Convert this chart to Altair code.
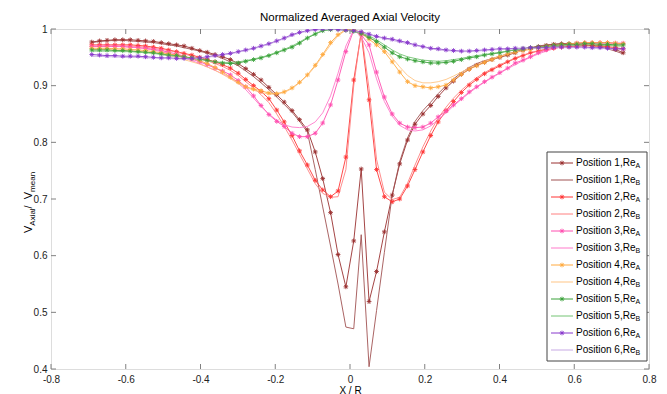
import altair as alt
import pandas as pd

TITLE = "Normalized Averaged Axial Velocity"
XLABEL = "X / R"
XTICKS = [-0.8, -0.6, -0.4, -0.2, 0.0, 0.2, 0.4, 0.6, 0.8]
YTICKS = [0.4, 0.5, 0.6, 0.7, 0.8, 0.9, 1.0]

X = [-0.691, -0.670, -0.650, -0.629, -0.608, -0.588, -0.567, -0.547, -0.526, -0.505,
     -0.485, -0.464, -0.444, -0.423, -0.402, -0.382, -0.361, -0.341, -0.320, -0.299,
     -0.279, -0.258, -0.238, -0.217, -0.196, -0.176, -0.155, -0.135, -0.114, -0.093,
     -0.073, -0.052, -0.032, -0.011, 0.010, 0.030, 0.051, 0.071, 0.092, 0.113,
     0.133, 0.154, 0.174, 0.195, 0.216, 0.236, 0.257, 0.277, 0.298, 0.319,
     0.339, 0.360, 0.380, 0.401, 0.422, 0.442, 0.463, 0.483, 0.504, 0.525,
     0.545, 0.566, 0.586, 0.607, 0.628, 0.648, 0.669, 0.689, 0.710, 0.731]

P1A = [0.977, 0.979, 0.980, 0.981, 0.981, 0.981, 0.980, 0.979, 0.978, 0.976,
       0.974, 0.972, 0.970, 0.966, 0.962, 0.959, 0.955, 0.951, 0.946, 0.939,
       0.930, 0.920, 0.910, 0.897, 0.884, 0.871, 0.856, 0.840, 0.822, 0.783,
       0.736, 0.676, 0.602, 0.545, 0.626, 0.753, 0.519, 0.572, 0.642, 0.707,
       0.762, 0.804, 0.832, 0.850, 0.865, 0.881, 0.896, 0.908, 0.920, 0.929,
       0.936, 0.941, 0.946, 0.950, 0.954, 0.958, 0.963, 0.966, 0.969, 0.971,
       0.973, 0.974, 0.974, 0.973, 0.972, 0.971, 0.970, 0.968, 0.964, 0.958]
P1B = [0.976, 0.978, 0.979, 0.980, 0.980, 0.979, 0.978, 0.977, 0.976, 0.974,
       0.972, 0.970, 0.967, 0.964, 0.961, 0.957, 0.953, 0.948, 0.942, 0.935,
       0.926, 0.916, 0.905, 0.893, 0.880, 0.867, 0.853, 0.837, 0.818, 0.752,
       0.686, 0.617, 0.550, 0.474, 0.471, 0.637, 0.404, 0.503, 0.606, 0.707,
       0.766, 0.808, 0.837, 0.856, 0.871, 0.886, 0.900, 0.912, 0.923, 0.932,
       0.939, 0.944, 0.948, 0.952, 0.956, 0.960, 0.964, 0.967, 0.970, 0.972,
       0.973, 0.974, 0.974, 0.973, 0.972, 0.970, 0.968, 0.965, 0.961, 0.956]
P2A = [0.972, 0.972, 0.972, 0.972, 0.972, 0.972, 0.971, 0.970, 0.968, 0.966,
       0.963, 0.960, 0.957, 0.954, 0.950, 0.946, 0.942, 0.937, 0.931, 0.922,
       0.911, 0.900, 0.890, 0.877, 0.857, 0.836, 0.812, 0.785, 0.760, 0.733,
       0.716, 0.704, 0.714, 0.774, 0.910, 0.993, 0.875, 0.752, 0.704, 0.695,
       0.700, 0.723, 0.752, 0.783, 0.812, 0.836, 0.856, 0.872, 0.888, 0.901,
       0.911, 0.921, 0.928, 0.935, 0.942, 0.948, 0.953, 0.958, 0.961, 0.964,
       0.966, 0.968, 0.969, 0.970, 0.971, 0.971, 0.970, 0.969, 0.967, 0.965]
P2B = [0.970, 0.970, 0.970, 0.970, 0.970, 0.970, 0.969, 0.968, 0.966, 0.964,
       0.962, 0.959, 0.956, 0.952, 0.948, 0.944, 0.939, 0.934, 0.927, 0.918,
       0.907, 0.896, 0.884, 0.870, 0.850, 0.828, 0.804, 0.779, 0.753, 0.727,
       0.710, 0.703, 0.704, 0.752, 0.900, 0.996, 0.895, 0.770, 0.712, 0.699,
       0.703, 0.728, 0.760, 0.792, 0.820, 0.843, 0.862, 0.878, 0.892, 0.904,
       0.914, 0.923, 0.930, 0.937, 0.943, 0.949, 0.954, 0.958, 0.962, 0.965,
       0.967, 0.968, 0.969, 0.970, 0.970, 0.970, 0.969, 0.968, 0.966, 0.963]
P3A = [0.969, 0.969, 0.969, 0.969, 0.969, 0.968, 0.967, 0.966, 0.964, 0.962,
       0.959, 0.956, 0.952, 0.947, 0.942, 0.937, 0.931, 0.926, 0.919, 0.909,
       0.898, 0.882, 0.865, 0.849, 0.837, 0.828, 0.816, 0.810, 0.810, 0.816,
       0.834, 0.866, 0.910, 0.960, 0.998, 0.990, 0.972, 0.924, 0.880, 0.850,
       0.834, 0.827, 0.826, 0.827, 0.834, 0.845, 0.855, 0.866, 0.877, 0.889,
       0.898, 0.907, 0.915, 0.923, 0.931, 0.940, 0.945, 0.951, 0.958, 0.963,
       0.967, 0.970, 0.973, 0.975, 0.976, 0.976, 0.976, 0.976, 0.975, 0.975]
P3B = [0.970, 0.970, 0.970, 0.970, 0.969, 0.968, 0.967, 0.965, 0.963, 0.960,
       0.957, 0.953, 0.949, 0.944, 0.939, 0.933, 0.927, 0.921, 0.914, 0.904,
       0.893, 0.878, 0.863, 0.850, 0.839, 0.831, 0.827, 0.826, 0.828, 0.836,
       0.852, 0.882, 0.922, 0.970, 0.999, 0.986, 0.958, 0.912, 0.872, 0.846,
       0.830, 0.822, 0.820, 0.822, 0.829, 0.840, 0.852, 0.864, 0.876, 0.887,
       0.897, 0.906, 0.914, 0.922, 0.930, 0.937, 0.944, 0.950, 0.956, 0.961,
       0.965, 0.969, 0.972, 0.974, 0.975, 0.975, 0.975, 0.975, 0.974, 0.973]
P4A = [0.966, 0.966, 0.966, 0.965, 0.965, 0.964, 0.963, 0.962, 0.960, 0.958,
       0.956, 0.954, 0.951, 0.948, 0.944, 0.939, 0.932, 0.924, 0.915, 0.906,
       0.898, 0.894, 0.891, 0.887, 0.886, 0.889, 0.896, 0.906, 0.919, 0.936,
       0.955, 0.976, 0.990, 0.999, 0.998, 0.992, 0.982, 0.972, 0.960, 0.942,
       0.924, 0.907, 0.900, 0.898, 0.896, 0.898, 0.901, 0.910, 0.920, 0.929,
       0.935, 0.941, 0.946, 0.951, 0.956, 0.959, 0.962, 0.964, 0.967, 0.969,
       0.971, 0.972, 0.974, 0.975, 0.976, 0.976, 0.976, 0.976, 0.975, 0.974]
P4B = [0.964, 0.964, 0.964, 0.963, 0.963, 0.962, 0.961, 0.960, 0.958, 0.956,
       0.953, 0.950, 0.946, 0.942, 0.938, 0.933, 0.927, 0.920, 0.912, 0.904,
       0.897, 0.892, 0.888, 0.885, 0.885, 0.888, 0.895, 0.905, 0.918, 0.934,
       0.953, 0.972, 0.988, 0.998, 0.999, 0.994, 0.986, 0.976, 0.964, 0.949,
       0.933, 0.918, 0.909, 0.905, 0.905, 0.907, 0.911, 0.917, 0.924, 0.931,
       0.937, 0.943, 0.948, 0.952, 0.956, 0.959, 0.962, 0.965, 0.967, 0.969,
       0.970, 0.971, 0.972, 0.973, 0.973, 0.973, 0.973, 0.972, 0.971, 0.970]
P5A = [0.963, 0.963, 0.963, 0.962, 0.962, 0.961, 0.960, 0.959, 0.958, 0.956,
       0.954, 0.953, 0.951, 0.949, 0.947, 0.945, 0.942, 0.940, 0.939, 0.940,
       0.943, 0.946, 0.949, 0.953, 0.958, 0.963, 0.968, 0.975, 0.984, 0.991,
       0.997, 0.999, 1.000, 0.998, 0.996, 0.992, 0.985, 0.978, 0.968, 0.958,
       0.951, 0.947, 0.944, 0.942, 0.940, 0.940, 0.941, 0.943, 0.946, 0.949,
       0.951, 0.954, 0.956, 0.958, 0.961, 0.963, 0.965, 0.967, 0.968, 0.969,
       0.971, 0.972, 0.973, 0.973, 0.974, 0.974, 0.973, 0.973, 0.972, 0.972]
P5B = [0.961, 0.961, 0.961, 0.961, 0.960, 0.960, 0.959, 0.958, 0.957, 0.955,
       0.953, 0.952, 0.950, 0.948, 0.946, 0.944, 0.942, 0.941, 0.941, 0.942,
       0.944, 0.947, 0.950, 0.954, 0.959, 0.964, 0.970, 0.977, 0.985, 0.992,
       0.997, 0.999, 0.999, 0.998, 0.996, 0.993, 0.988, 0.981, 0.972, 0.963,
       0.956, 0.951, 0.948, 0.945, 0.944, 0.943, 0.944, 0.946, 0.948, 0.951,
       0.953, 0.955, 0.957, 0.959, 0.961, 0.963, 0.965, 0.966, 0.967, 0.968,
       0.969, 0.970, 0.971, 0.971, 0.972, 0.972, 0.971, 0.971, 0.970, 0.970]
P6A = [0.955, 0.954, 0.953, 0.953, 0.952, 0.952, 0.952, 0.951, 0.950, 0.949,
       0.949, 0.948, 0.948, 0.948, 0.949, 0.951, 0.953, 0.955, 0.957, 0.960,
       0.963, 0.966, 0.970, 0.974, 0.979, 0.984, 0.990, 0.994, 0.997, 0.999,
       1.000, 1.000, 0.999, 0.998, 0.997, 0.995, 0.991, 0.987, 0.984, 0.982,
       0.979, 0.976, 0.972, 0.969, 0.966, 0.965, 0.963, 0.962, 0.961, 0.961,
       0.962, 0.963, 0.964, 0.965, 0.965, 0.966, 0.966, 0.967, 0.967, 0.967,
       0.968, 0.968, 0.968, 0.968, 0.968, 0.967, 0.967, 0.966, 0.965, 0.965]
P6B = [0.952, 0.952, 0.951, 0.951, 0.950, 0.950, 0.950, 0.949, 0.949, 0.948,
       0.948, 0.947, 0.947, 0.947, 0.948, 0.950, 0.952, 0.954, 0.956, 0.959,
       0.962, 0.965, 0.969, 0.973, 0.978, 0.983, 0.988, 0.993, 0.996, 0.998,
       0.999, 1.000, 0.999, 0.998, 0.996, 0.994, 0.990, 0.986, 0.983, 0.980,
       0.977, 0.974, 0.971, 0.968, 0.965, 0.963, 0.962, 0.961, 0.960, 0.960,
       0.961, 0.962, 0.963, 0.964, 0.964, 0.965, 0.965, 0.966, 0.966, 0.966,
       0.967, 0.967, 0.967, 0.967, 0.967, 0.966, 0.966, 0.965, 0.964, 0.964]

KEYS = ["P1A", "P1B", "P2A", "P2B", "P3A", "P3B", "P4A", "P4B", "P5A", "P5B", "P6A", "P6B"]
VALUES = [P1A, P1B, P2A, P2B, P3A, P3B, P4A, P4B, P5A, P5B, P6A, P6B]
LABELS = ["Position 1,Re", "Position 1,Re", "Position 2,Re", "Position 2,Re",
          "Position 3,Re", "Position 3,Re", "Position 4,Re", "Position 4,Re",
          "Position 5,Re", "Position 5,Re", "Position 6,Re", "Position 6,Re"]
SUBS = ["A", "B", "A", "B", "A", "B", "A", "B", "A", "B", "A", "B"]
MARKED = [True, False] * 6
COLORS = ["#9A3030", "#A05252", "#FF3535", "#FF8080", "#FF4FB0", "#FF7ACB",
          "#FFAA40", "#FFC585", "#3AA23A", "#74C474", "#8838CC", "#C7A9E4"]

FONT = "Liberation Sans"
STAR = "M-1,0L1,0M0,-1L0,1M-0.7,-0.7L0.7,0.7M-0.7,0.7L0.7,-0.7"
W, H = 598, 340

rows = []
for k, vals, m in zip(KEYS, VALUES, MARKED):
    for xv, yv in zip(X, vals):
        rows.append({"key": k, "x": xv, "y": yv, "marked": m})
df = pd.DataFrame(rows)
df_m = df[df["marked"]]

leg = pd.DataFrame({"key": KEYS, "idx": list(range(len(KEYS))), "label": LABELS,
                    "sub": SUBS, "marked": MARKED})
leg_m = leg[leg["marked"]]

xs = alt.Scale(domain=[-0.8, 0.8], nice=False, zero=False)
ys = alt.Scale(domain=[0.4, 1.0], nice=False, zero=False)
cs = alt.Scale(domain=KEYS, range=COLORS)
ls = alt.Scale(domain=[0, 11], range=[134, 321], nice=False, zero=False)
lab = "replace(format(datum.value, '~g'), '\u2212', '-')"

xaxis = alt.Axis(values=XTICKS, ticks=False, domain=False, grid=False, labelExpr=lab,
                 labelFlush=False, labelOverlap=False, labelFontSize=10, labelFont=FONT,
                 labelColor="#222222", labelPadding=5, title=XLABEL, titleFont=FONT,
                 titleFontSize=10, titleFontWeight="normal", titleColor="#000000",
                 titlePadding=1)
yaxis = alt.Axis(values=YTICKS, ticks=False, domain=False, grid=False, labelExpr=lab,
                 labelFlush=False, labelOverlap=False, labelFontSize=10, labelFont=FONT,
                 labelColor="#222222", labelPadding=4, title=None)

lines = alt.Chart(df).mark_line(strokeWidth=0.9, clip=True).encode(
    x=alt.X("x:Q", scale=xs, axis=xaxis),
    y=alt.Y("y:Q", scale=ys, axis=yaxis),
    color=alt.Color("key:N", scale=cs, legend=None),
    detail="key:N",
)
points = alt.Chart(df_m).mark_point(shape=STAR, filled=False, size=22, strokeWidth=0.9,
                                    opacity=1, clip=True).encode(
    x=alt.X("x:Q", scale=xs, axis=None),
    y=alt.Y("y:Q", scale=ys, axis=None),
    color=alt.Color("key:N", scale=cs, legend=None),
)

xt = pd.DataFrame({"v": XTICKS})
yt = pd.DataFrame({"v": YTICKS})
tc = "#808080"
tick_b = alt.Chart(xt).mark_rule(color=tc).encode(
    x=alt.X("v:Q", scale=xs, axis=None), y=alt.value(H), y2=alt.value(H - 5))
tick_t = alt.Chart(xt).mark_rule(color=tc).encode(
    x=alt.X("v:Q", scale=xs, axis=None), y=alt.value(0), y2=alt.value(5))
tick_l = alt.Chart(yt).mark_rule(color=tc).encode(
    y=alt.Y("v:Q", scale=ys, axis=None), x=alt.value(0), x2=alt.value(5))
tick_r = alt.Chart(yt).mark_rule(color=tc).encode(
    y=alt.Y("v:Q", scale=ys, axis=None), x=alt.value(W), x2=alt.value(W - 5))

one = pd.DataFrame({"a": [0]})
box = alt.Chart(one).mark_rect(fill="white", stroke="#444444", strokeWidth=1).encode(
    x=alt.value(496), x2=alt.value(596), y=alt.value(123), y2=alt.value(332))
leg_lines = alt.Chart(leg).mark_rule(strokeWidth=1).encode(
    x=alt.value(500), x2=alt.value(522),
    y=alt.Y("idx:Q", scale=ls, axis=None),
    color=alt.Color("key:N", scale=cs, legend=None))
leg_pts = alt.Chart(leg_m).mark_point(shape=STAR, filled=False, size=22, strokeWidth=0.9,
                                      opacity=1).encode(
    x=alt.value(511), y=alt.Y("idx:Q", scale=ls, axis=None),
    color=alt.Color("key:N", scale=cs, legend=None))
leg_txt = alt.Chart(leg).mark_text(align="left", baseline="middle", fontSize=10,
                                   font=FONT, color="#000000").encode(
    x=alt.value(525), y=alt.Y("idx:Q", scale=ls, axis=None), text="label:N")
leg_sub = alt.Chart(leg).mark_text(align="left", baseline="middle", fontSize=7,
                                   font=FONT, color="#000000", dy=3).encode(
    x=alt.value(584.5), y=alt.Y("idx:Q", scale=ls, axis=None), text="sub:N")

def label_text(txt, size, xpos, ypos, angle=0, align="left"):
    kw = {"angle": angle} if angle else {}
    return alt.Chart(one).mark_text(text=txt, align=align, baseline="alphabetic",
                                    fontSize=size, font=FONT, color="#000000",
                                    **kw).encode(x=alt.value(xpos), y=alt.value(ypos))

title_mark = label_text(TITLE, 11.5, W / 2, -8.5, align="center")
yt1 = label_text("V", 11, -19, 204, angle=270)
yt2 = label_text("Axial", 8, -16.5, 196.7, angle=270)
yt3 = label_text(" / ", 11, -19, 179.4, angle=270)
yt4 = label_text("V", 11, -19, 170.2, angle=270)
yt5 = label_text("mean", 8, -16.5, 162.9, angle=270)

chart = alt.layer(
    lines, points, tick_b, tick_t, tick_l, tick_r,
    box, leg_lines, leg_pts, leg_txt, leg_sub,
    title_mark, yt1, yt2, yt3, yt4, yt5,
).resolve_scale(x="independent", y="independent").properties(
    width=W, height=H,
    autosize=alt.AutoSizeParams(type="none"),
    padding={"left": 43, "top": 21, "right": 10, "bottom": 25},
).configure_view(stroke="#808080", strokeWidth=1).configure(font=FONT)

chart.save("out.html", embed_options={"renderer": "svg", "actions": False})
